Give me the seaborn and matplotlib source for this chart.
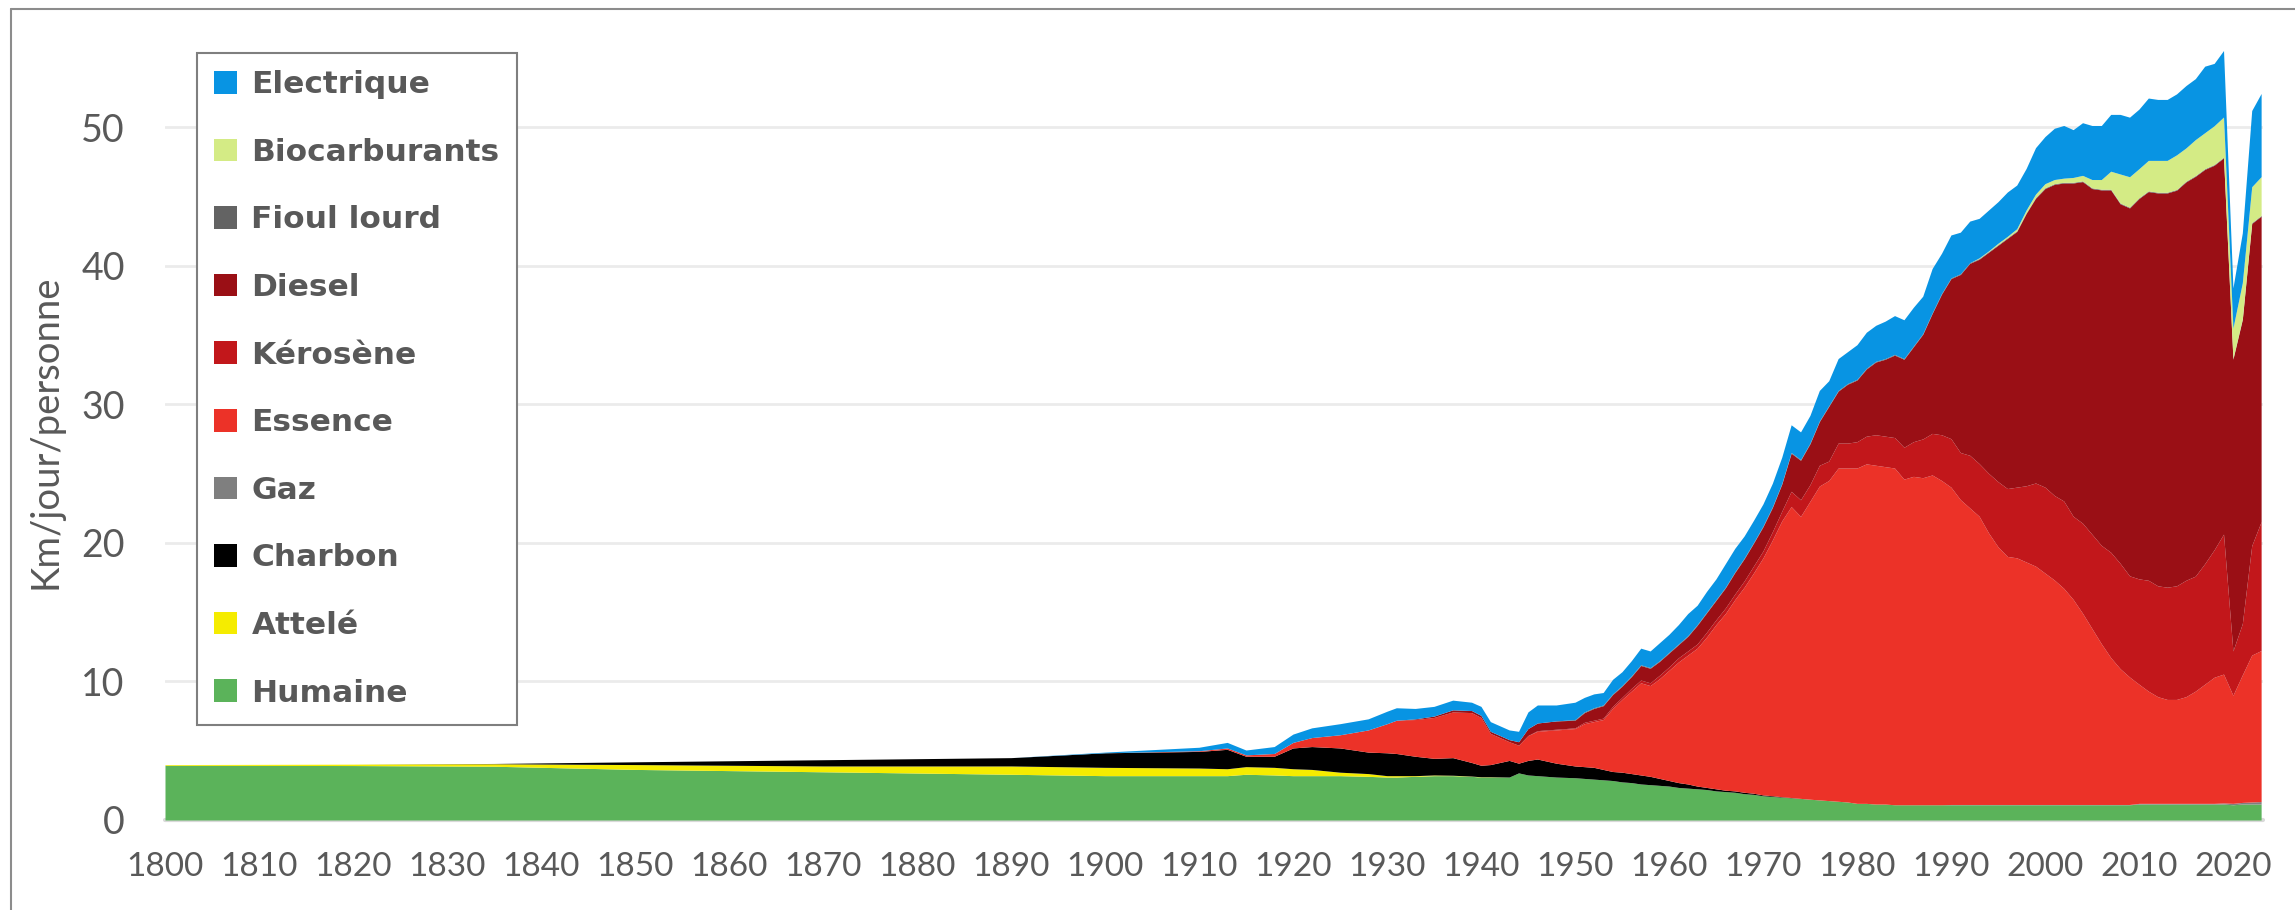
import matplotlib
matplotlib.use('Agg')
import matplotlib.pyplot as plt
import seaborn as sns
from matplotlib.lines import Line2D

# years: sparse before 1950, yearly after
years_pre = [1800, 1820, 1835, 1850, 1870, 1890, 1900, 1910, 1913, 1915,
             1918, 1920, 1922, 1925, 1928, 1930, 1931, 1933, 1935, 1937,
             1939, 1940, 1941, 1943, 1944, 1945, 1946, 1948]
years = years_pre + list(range(1950, 2024))

# km/jour/personne per energy (pre-1950 values, then 1950..2023 by decade)
humaine = [3.95, 3.93, 3.88, 3.65, 3.48, 3.3, 3.2, 3.2, 3.2, 3.3,
           3.25, 3.2, 3.2, 3.2, 3.15, 3.1, 3.1, 3.15, 3.2, 3.2,
           3.15, 3.1, 3.1, 3.1, 3.4, 3.25, 3.2, 3.1] + \
          [3.05, 3.0, 2.95, 2.9, 2.85, 2.75, 2.7, 2.6, 2.55, 2.5,
           2.45, 2.35, 2.3, 2.25, 2.2, 2.1, 2.05, 2.0, 1.9, 1.85,
           1.75, 1.7, 1.65, 1.6, 1.55, 1.5, 1.45, 1.4, 1.35, 1.3,
           1.2, 1.2, 1.15, 1.15, 1.1, 1.1, 1.1, 1.1, 1.1, 1.1,
           1.1, 1.1, 1.1, 1.1, 1.1, 1.1, 1.1, 1.1, 1.1, 1.1,
           1.1, 1.1, 1.1, 1.1, 1.1, 1.1, 1.1, 1.1, 1.1, 1.1,
           1.15, 1.15, 1.15, 1.15, 1.15, 1.15, 1.15, 1.15, 1.15, 1.15,
           1.1, 1.15, 1.15, 1.15]
attele = [0.05, 0.1, 0.18, 0.35, 0.42, 0.6, 0.6, 0.55, 0.5, 0.55,
          0.55, 0.5, 0.45, 0.25, 0.2, 0.1, 0.1, 0.05, 0.05, 0.03,
          0.02, 0.02, 0.02, 0, 0, 0, 0, 0] + [0] * 74
charbon = [0, 0, 0.02, 0.2, 0.45, 0.6, 1.05, 1.2, 1.4, 0.75,
           0.8, 1.5, 1.65, 1.75, 1.55, 1.65, 1.6, 1.4, 1.2, 1.27,
           0.98, 0.83, 0.88, 1.2, 0.7, 1.05, 1.2, 1.0] + \
          [0.85, 0.85, 0.85, 0.75, 0.65, 0.7, 0.65, 0.65, 0.6, 0.5,
           0.4, 0.35, 0.3, 0.2, 0.15, 0.15, 0.1, 0.1, 0.1, 0.08,
           0.06, 0.05, 0.03, 0.02, 0.01, 0, 0, 0, 0, 0] + [0] * 44
gaz = [0] * 28 + [0] * 40 + [0.02] * 20 + [0.05] * 9 + [0.08, 0.1, 0.12, 0.15, 0.18]
essence = [0, 0, 0, 0, 0, 0, 0, 0.05, 0.1, 0.1,
           0.2, 0.4, 0.65, 0.95, 1.6, 2.1, 2.4, 2.65, 2.95, 3.3,
           3.6, 3.45, 2.25, 1.35, 1.3, 1.8, 2.0, 2.4] + \
          [2.7, 3.1, 3.3, 3.6, 4.55, 5.25, 5.95, 6.65, 6.55, 7.2,
           7.95, 8.7, 9.3, 9.95, 10.85, 11.85, 12.75, 13.8, 14.8, 15.9,
           17.1, 18.45, 19.9, 21.0, 20.35, 21.5, 22.65, 23.1, 24.05, 24.1,
           24.2, 24.5, 24.45, 24.35, 24.3, 23.5, 23.7, 23.6, 23.8, 23.4,
           22.9, 22.0, 21.4, 20.8, 19.6, 18.6, 17.9, 17.8, 17.5, 17.2,
           16.7, 16.2, 15.6, 14.8, 13.8, 12.7, 11.6, 10.6, 9.8, 9.2,
           8.6, 8.1, 7.7, 7.5, 7.5, 7.7, 8.1, 8.6, 9.1, 9.3,
           7.8, 9.2, 10.6, 10.9]
kerosene = [0] * 26 + [0.05, 0.05] + \
           [0.05, 0.1, 0.1, 0.1, 0.15, 0.15, 0.2, 0.2, 0.2, 0.25,
            0.25, 0.3, 0.3, 0.3, 0.35, 0.35, 0.4, 0.4, 0.45, 0.5,
            0.5, 0.6, 0.7, 1.1, 1.2, 1.2, 1.5, 1.4, 1.8, 1.8,
            1.9, 2.0, 2.2, 2.2, 2.2, 2.3, 2.5, 2.8, 3.0, 3.3,
            3.5, 3.4, 3.8, 3.8, 4.3, 4.7, 4.9, 5.1, 5.5, 6.0,
            6.2, 6.1, 6.3, 6.0, 6.5, 6.8, 7.1, 7.6, 7.6, 7.3,
            7.6, 8.0, 8.0, 8.1, 8.2, 8.4, 8.3, 8.7, 9.2, 10.1,
            3.2, 3.7, 7.9, 9.3]
diesel = [0] * 17 + [0.05, 0.1, 0.15, 0.15, 0.15, 0.15, 0.15, 0.25, 0.5, 0.55, 0.6] + \
         [0.55, 0.7, 0.85, 0.9, 0.85, 0.8, 0.85, 1.05, 1.05, 1.0,
          1.0, 0.95, 1.05, 1.35, 1.4, 1.4, 1.45, 1.55, 1.6, 1.65,
          1.75, 1.75, 1.95, 2.75, 2.85, 2.95, 3.15, 3.95, 3.75, 4.25,
          4.45, 4.85, 5.25, 5.55, 5.95, 6.35, 6.85, 7.55, 8.65, 10.15,
          11.55, 12.85, 13.85, 14.75, 15.95, 17.05, 18.05, 18.45, 19.65, 20.55,
          21.55, 22.45, 22.95, 24.05, 24.65, 24.95, 25.65, 26.15, 25.95, 26.55,
          27.45, 28.05, 28.35, 28.45, 28.55, 28.75, 28.85, 28.45, 27.75, 27.15,
          21.05, 21.95, 23.25, 22.05]
fioul = [0] * 28 + [0.05] * 74
biocarburants = [0] * 28 + [0] * 43 + \
                [0.05, 0.05, 0.1, 0.1, 0.15, 0.2, 0.25,
                 0.3, 0.3, 0.3, 0.35, 0.4, 0.6, 0.7, 1.3, 2.1, 2.2,
                 2.1, 2.2, 2.3, 2.3, 2.5, 2.4, 2.6, 2.6, 2.8, 2.9,
                 2.2, 2.6, 2.6, 2.8]
electrique = [0, 0, 0, 0, 0, 0, 0.05, 0.25, 0.4, 0.35,
              0.5, 0.6, 0.7, 0.8, 0.8, 0.9, 0.9, 0.75, 0.7, 0.7,
              0.6, 0.65, 0.7, 0.7, 0.75, 1.2, 1.3, 1.15] + \
             [1.25, 1.05, 1.0, 0.9, 1.05, 1.0, 1.1, 1.2, 1.2, 1.3,
              1.3, 1.4, 1.6, 1.4, 1.5, 1.5, 1.7, 1.7, 1.6, 1.6,
              1.6, 1.7, 1.9, 2.0, 2.0, 2.0, 2.2, 1.8, 2.3, 2.3,
              2.5, 2.6, 2.6, 2.7, 2.8, 2.8, 2.8, 2.7, 3.2, 2.9,
              3.1, 3.0, 3.0, 2.85, 2.95, 3.0, 3.2, 3.15, 3.0, 3.35,
              3.4, 3.7, 3.8, 3.45, 3.8, 3.9, 3.9, 4.1, 4.3, 4.3,
              4.3, 4.5, 4.4, 4.4, 4.4, 4.5, 4.4, 4.8, 4.5, 4.8,
              2.9, 3.6, 5.5, 6.0]

labels = ['Humaine', 'Attelé', 'Charbon', 'Gaz', 'Essence', 'Kérosène',
          'Diesel', 'Fioul lourd', 'Biocarburants', 'Electrique']
colors = ['#5BB35A', '#F5EC00', '#000000', '#7F7F7F', '#EC3228', '#C2171B',
          '#9A0F15', '#636363', '#D4EB85', '#0894E3']

sns.set_theme(style='white')
plt.rcParams['font.family'] = ['Lato', 'DejaVu Sans']

fig = plt.figure(figsize=(22.95, 9.10), dpi=100)
ax = fig.add_axes([165 / 2295, 90 / 910, 2098 / 2295, 776 / 910])

ax.stackplot(years, humaine, attele, charbon, gaz, essence, kerosene,
             diesel, fioul, biocarburants, electrique,
             labels=labels, colors=colors, linewidth=0, zorder=2)

ax.set_xlim(1800, 2023.2)
ax.set_ylim(0, 56)
ax.set_xticks(range(1800, 2021, 10))
ax.set_yticks(range(0, 51, 10))
ax.grid(axis='y', color='#EBEBEB', linewidth=2)
ax.grid(axis='x', visible=False)
ax.set_axisbelow(True)
for s in ax.spines.values():
    s.set_visible(False)
ax.axhline(0, color='#D9D9D9', linewidth=3, zorder=1, clip_on=False)

ax.tick_params(axis='x', labelsize=24, colors='#595959', length=0, pad=23)
ax.tick_params(axis='y', labelsize=27, colors='#595959', length=0, pad=29)
ax.set_ylabel('Km/jour/personne', fontsize=27.5, color='#595959')
ax.yaxis.set_label_coords(-0.0486, 0.5)

handles, labs = ax.get_legend_handles_labels()
leg = ax.legend(handles[::-1], labs[::-1], loc='upper left',
                bbox_to_anchor=(197 / 2295, 1 - 53 / 910),
                bbox_transform=fig.transFigure,
                prop={'family': 'DejaVu Sans', 'weight': 'bold', 'size': 22.5},
                labelcolor='#595959',
                frameon=True, fancybox=False, framealpha=1, edgecolor='#7F7F7F',
                handlelength=0.74, handleheight=0.74, handletextpad=0.45,
                labelspacing=1.235, borderpad=0.55, borderaxespad=0)
leg.get_frame().set_linewidth(1.5)

# outer chart border (top and left visible)
fig.add_artist(Line2D([11 / 2295, 11 / 2295], [0, 1 - 9 / 910],
                      transform=fig.transFigure, color='#8C8C8C', linewidth=1.5))
fig.add_artist(Line2D([11 / 2295, 1], [1 - 9 / 910, 1 - 9 / 910],
                      transform=fig.transFigure, color='#8C8C8C', linewidth=1.5))

fig.savefig('out.png', dpi=100)
